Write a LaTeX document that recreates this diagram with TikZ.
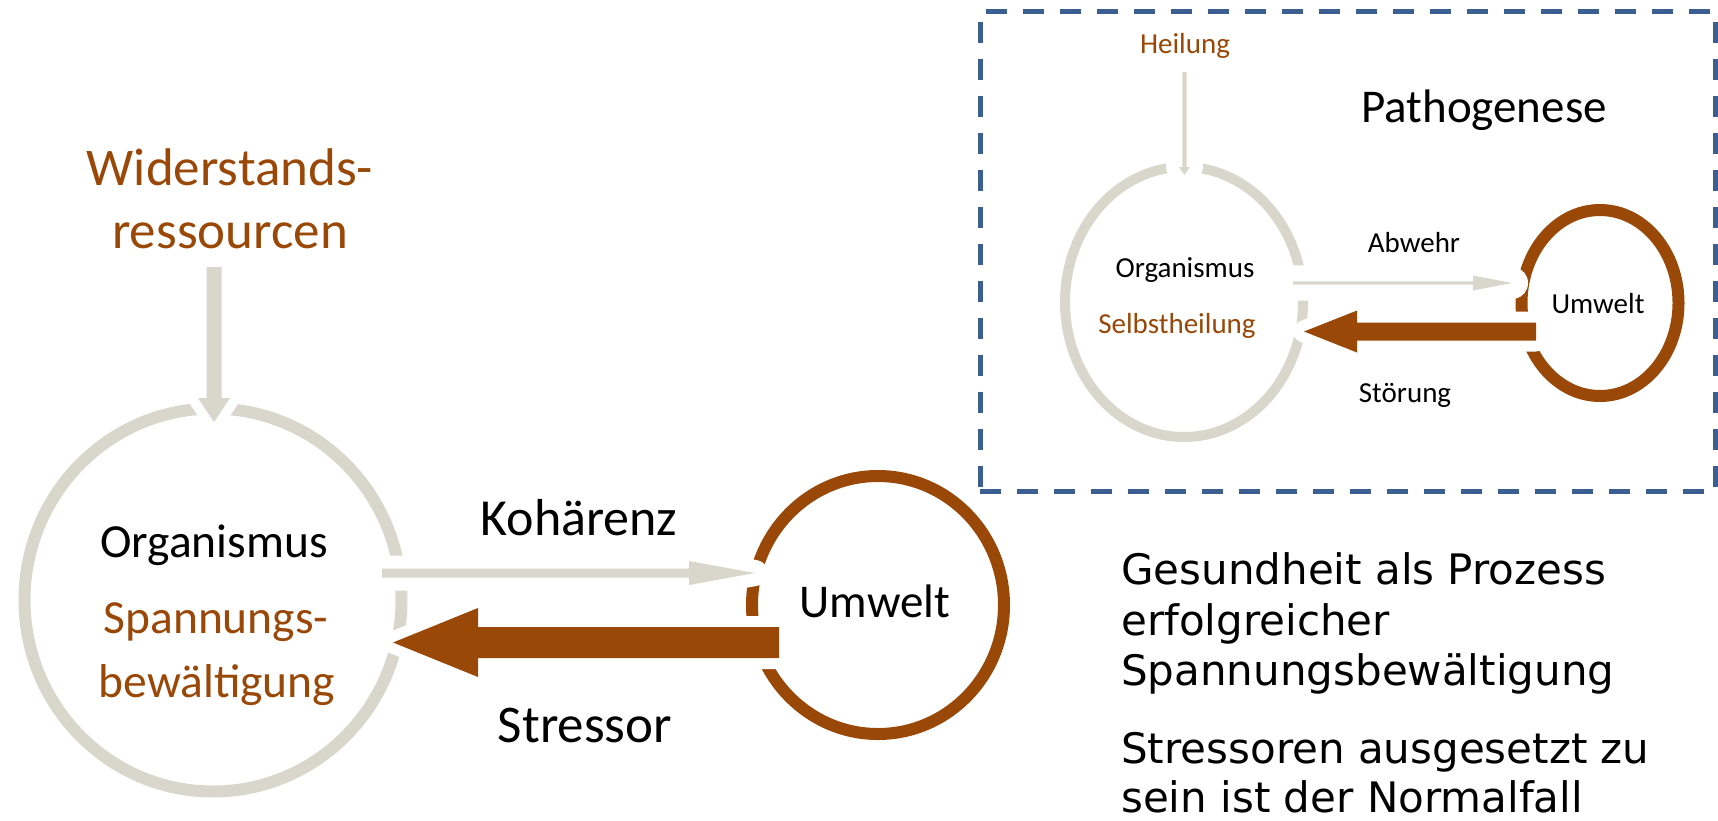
\documentclass[tikz,border=0pt]{standalone}
\usepackage{fontspec}
\setmainfont{Carlito}
\newfontfamily\notefont{DejaVu Sans}
\usetikzlibrary{shapes.geometric,calc}

\definecolor{kgray}{RGB}{217,215,204}
\definecolor{kbrown}{RGB}{153,72,8}
\definecolor{kblue}{RGB}{60,95,145}

% Block arrow: #1 style, #2 tail, #3 tip, #4 half shaft width,
% #5 half head width, #6 head length
\newcommand{\blockarrow}[6]{%
  \fill[#1] ($(#2)!#4!90:(#3)$)
    -- ($($(#3)!#6!(#2)$)!#4!90:(#3)$)
    -- ($($(#3)!#6!(#2)$)!#5!90:(#3)$)
    -- (#3)
    -- ($($(#3)!#6!(#2)$)!#5!-90:(#3)$)
    -- ($($(#3)!#6!(#2)$)!#4!-90:(#3)$)
    -- ($(#2)!#4!-90:(#3)$) -- cycle;}

\tikzset{
  ring/.style={ellipse, draw=#1, inner sep=0pt},
  label/.style={inner sep=0pt, anchor=base},
  halo/.style={preaction={draw=white, line width=#1, line join=round}},
  halo/.default=24pt,
  note/.style={inner sep=0pt, anchor=base west,
    font=\notefont\fontsize{42}{50}\selectfont},
}

\begin{document}
\begin{tikzpicture}[x=1pt, y=-1pt]
\useasboundingbox (0,0) rectangle (1718,820);

% ---- salutogenesis model ----
\node[ring=kgray, line width=12pt, minimum width=377pt, minimum height=383pt] (org) at (213,600) {};
\node[ring=kbrown, line width=12pt, minimum width=252pt, minimum height=258pt] (umw) at (878,605) {};

\node[label, text=kbrown, font=\fontsize{53}{63}\selectfont] (wid1) at (230,185) {Widerstands-};
\node[label, text=kbrown, font=\fontsize{53}{63}\selectfont] (wid2) at (230,248) {ressourcen};

\coordinate (resT) at (214,267);
\coordinate (resH) at (214,422);
\coordinate (kohT) at (382,573);
\coordinate (kohH) at (755,573);
\coordinate (strT) at (779,642.5);
\coordinate (strH) at (393,642.5);

\blockarrow{kgray, halo=20pt}{resT}{resH}{7.5pt}{16pt}{24pt}
\blockarrow{kgray, halo=26pt}{kohT}{kohH}{4.5pt}{12pt}{66pt}
\blockarrow{kbrown, halo=22pt}{strT}{strH}{15.5pt}{34.5pt}{85pt}

\node[label, font=\fontsize{47.5}{57}\selectfont] (orgA) at (214,557) {Organismus};
\node[label, text=kbrown, font=\fontsize{47.5}{57}\selectfont] (orgB) at (216,633) {Spannungs-};
\node[label, text=kbrown, font=\fontsize{47.5}{57}\selectfont] (orgC) at (217,697) {bewältigung};
\node[label, font=\fontsize{52}{62}\selectfont] (koh) at (579,535) {Kohärenz};
\node[label, font=\fontsize{53}{63}\selectfont] (str) at (585,742) {Stressor};
\node[label, font=\fontsize{47}{56}\selectfont] (umwL) at (875,617) {Umwelt};

% ---- pathogenesis model ----
\node[draw=kblue, line width=5pt, dash pattern=on 21pt off 16pt, inner sep=0pt,
      minimum width=735.5pt, minimum height=480pt] (pbox) at (1347.75,251.5) {};

\node[ring=kgray, line width=10pt, minimum width=238pt, minimum height=270pt] (porg) at (1184,302) {};
\node[ring=kbrown, line width=12pt, minimum width=157pt, minimum height=186pt] (pumw) at (1600,303) {};

\coordinate (heiT) at (1184.5,72);
\coordinate (heiH) at (1184.5,175);
\coordinate (abwT) at (1293,283);
\coordinate (abwH) at (1512,283);
\coordinate (stoT) at (1536,331.5);
\coordinate (stoH) at (1304,331.5);

\blockarrow{kgray, halo=26pt}{heiT}{heiH}{2.2pt}{5.5pt}{8pt}
\blockarrow{kgray, halo=32pt}{abwT}{abwH}{1.7pt}{7.5pt}{39pt}
\blockarrow{kbrown, halo=22pt}{stoT}{stoH}{9pt}{21pt}{53pt}

\node[label, text=kbrown, font=\fontsize{29}{35}\selectfont] (hei) at (1185,53) {Heilung};
\node[label, font=\fontsize{47}{56}\selectfont] (path) at (1484,122) {Pathogenese};
\node[label, font=\fontsize{29}{35}\selectfont] (porgA) at (1185,277) {Organismus};
\node[label, text=kbrown, font=\fontsize{29}{35}\selectfont] (porgB) at (1177,333) {Selbstheilung};
\node[label, font=\fontsize{29}{35}\selectfont] (abw) at (1414,252) {Abwehr};
\node[label, font=\fontsize{29}{35}\selectfont] (sto) at (1405,402) {Störung};
\node[label, font=\fontsize{29}{35}\selectfont] (pumwL) at (1598,313) {Umwelt};

% ---- notes ----
\node[note] (n1) at (1121,584) {Gesundheit als Prozess};
\node[note] (n2) at (1121,635) {erfolgreicher};
\node[note] (n3) at (1121,685) {Spannungsbewältigung};
\node[note] (n4) at (1121,763) {Stressoren ausgesetzt zu};
\node[note] (n5) at (1121,812) {sein ist der Normalfall};
\end{tikzpicture}
\end{document}
